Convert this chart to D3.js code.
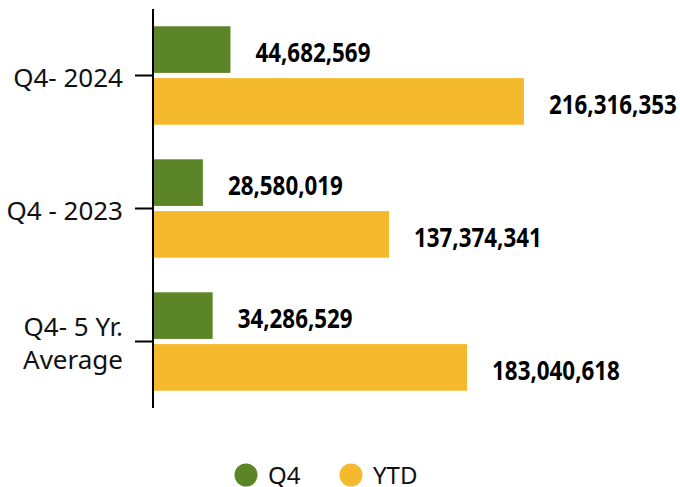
<!DOCTYPE html>
<html>
<head>
<meta charset="utf-8">
<script src="https://cdn.jsdelivr.net/npm/d3@7"></script>
<style>
  html, body { margin: 0; padding: 0; background: #fff; }
  svg { display: block; font-family: "Noto Sans", "Open Sans", sans-serif; }
</style>
</head>
<body>
<div id="chart"></div>
<script>
// categories, top to bottom
var categories = ['Q4- 2024', 'Q4 - 2023', 'Q4- 5 Yr. Average'];
var categoryLines = [['Q4- 2024'], ['Q4 - 2023'], ['Q4- 5 Yr.', 'Average']];
var seriesNames = ['Q4', 'YTD'];
var q4Values = [44682569, 28580019, 34286529];
var ytdValues = [216316353, 137374341, 183040618];
var seriesColors = ['#5b8527', '#f5b92e'];

var width = 680, height = 487;

var svg = d3.select('#chart')
  .append('svg')
  .attr('width', width)
  .attr('height', height);

var rows = categories.map(function (c, i) {
  return { cat: c, lines: categoryLines[i], values: [q4Values[i], ytdValues[i]] };
});

var y0 = d3.scaleBand()
  .domain(categories)
  .range([9, 408])
  .paddingInner(0.26)
  .paddingOuter(0.13);

var y1 = d3.scaleBand()
  .domain(seriesNames)
  .range([0, y0.bandwidth()])
  .paddingInner(0.1);

var x = d3.scaleLinear()
  .domain([0, 216316353])
  .range([154, 524]);

var color = d3.scaleOrdinal().domain(seriesNames).range(seriesColors);

var groups = svg.append('g')
  .selectAll('g')
  .data(rows)
  .enter()
  .append('g')
  .attr('transform', function (d) { return 'translate(0,' + y0(d.cat) + ')'; });

function pairs(d) {
  return d.values.map(function (v, i) { return { name: seriesNames[i], value: v }; });
}

groups.selectAll('rect')
  .data(pairs)
  .enter()
  .append('rect')
  .attr('x', x(0))
  .attr('y', function (d) { return y1(d.name); })
  .attr('width', function (d) { return x(d.value) - x(0); })
  .attr('height', y1.bandwidth())
  .attr('fill', function (d) { return color(d.name); });

// value labels: bold, a bit condensed like the original
groups.selectAll('text.val')
  .data(pairs)
  .enter()
  .append('text')
  .attr('class', 'val')
  .attr('transform', function (d) {
    return 'translate(' + (x(d.value) + 25) + ',' + (y1(d.name) + y1.bandwidth() / 2 + 12.5) + ') scale(0.86,1)';
  })
  .attr('font-size', 26)
  .attr('font-weight', 'bold')
  .attr('fill', '#000')
  .text(function (d) { return d3.format(',')(d.value); });

// axis
var axis = svg.append('g')
  .attr('transform', 'translate(153,0)')
  .call(d3.axisLeft(y0).tickSize(18).tickFormat(''));

axis.select('.domain').attr('d', 'M0,9V408').attr('stroke', '#000').attr('stroke-width', 2);
axis.selectAll('.tick line').attr('stroke', '#000').attr('stroke-width', 2);

var catText = svg.append('g')
  .selectAll('text')
  .data(rows)
  .enter()
  .append('text')
  .attr('x', 123)
  .attr('y', function (d) { return y0(d.cat) + y0.bandwidth() / 2 + 11 - (d.lines.length - 1) * 16.5; })
  .attr('text-anchor', 'end')
  .attr('font-size', 26)
  .attr('fill', '#111');

catText.selectAll('tspan')
  .data(function (d) { return d.lines; })
  .enter()
  .append('tspan')
  .attr('x', 123)
  .attr('dy', function (d, i) { return i === 0 ? 0 : 33; })
  .text(function (d) { return d; });

// legend
var legend = svg.append('g')
  .selectAll('g')
  .data(seriesNames)
  .enter()
  .append('g')
  .attr('transform', function (d, i) { return 'translate(' + (246 + i * 105) + ',475)'; });

legend.append('circle')
  .attr('r', 11.5)
  .attr('fill', function (d) { return color(d); });

legend.append('text')
  .attr('x', 22)
  .attr('y', 9)
  .attr('font-size', 24)
  .attr('fill', '#111')
  .text(function (d) { return d; });
</script>
</body>
</html>
